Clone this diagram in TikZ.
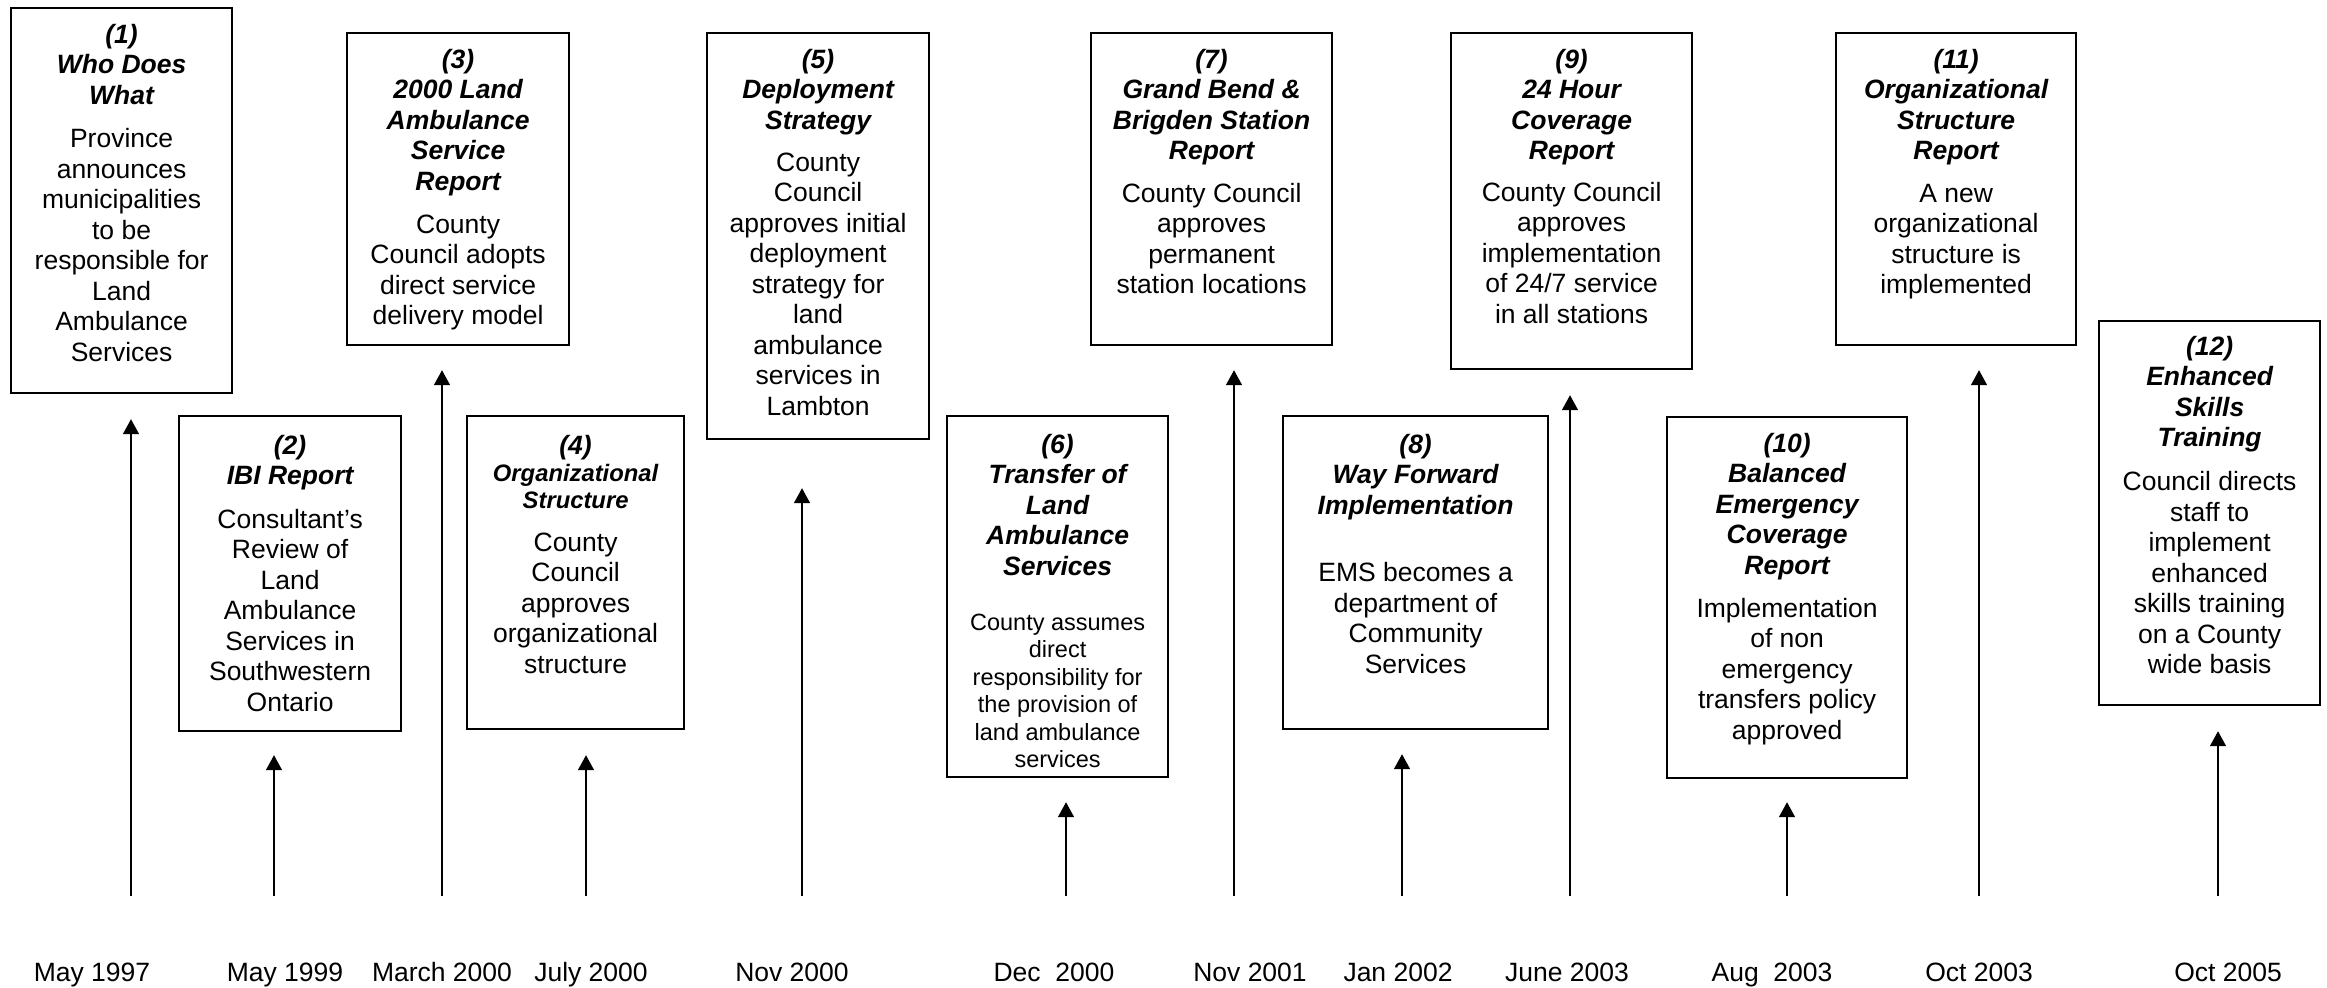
\documentclass[tikz,border=0pt]{standalone}
\usepackage{fontspec}
\setmainfont{Liberation Sans}
\usetikzlibrary{arrows.meta}
\newlength\upx
\setlength\upx{0.5pt}
\newcommand\ttl{\bfseries\itshape}
\newcommand\evbox[7]{%
  \node[evb] (#1) at (#2,#3) {\parbox[c][#5\upx][t]{#4\upx}{\centering\rule{0pt}{#6pt}#7}};}
\begin{document}
\begin{tikzpicture}[x=0.5pt,y=-0.5pt,
  every node/.style={font=\fontsize{13.25pt}{15.25pt}\selectfont},
  evb/.style={draw, line width=1.1pt, inner sep=0pt, anchor=north west},
  arr/.style={line width=0.75pt, -{Triangle[length=7.5pt,width=8pt]}, shorten >=12pt},
  date/.style={anchor=base, inner sep=0pt}]
\path[use as bounding box] (0,0) rectangle (2327,988);

\evbox{b1}{10}{7}{221}{385}{17.5}{{\ttl (1)\\ Who Does\\ What\par}\vspace{6.5pt}Province\\ announces\\ municipalities\\ to be\\ responsible for\\ Land\\ Ambulance\\ Services}
\evbox{b2}{178}{415}{222}{315}{19}{{\ttl (2)\\ IBI Report\par}\vspace{6.5pt}Consultant’s\\ Review of\\ Land\\ Ambulance\\ Services in\\ Southwestern\\ Ontario}
\evbox{b3}{346}{32}{222}{312}{17.5}{{\ttl (3)\\ 2000 Land\\ Ambulance\\ Service\\ Report\par}\vspace{6.25pt}County\\ Council adopts\\ direct service\\ delivery model}
\evbox{b4}{466}{415}{217}{313}{19}{{\ttl (4)\\ \fontsize{11.9pt}{13.5pt}\selectfont Organizational\\ Structure\par}\vspace{6.25pt}County\\ Council\\ approves\\ organizational\\ structure}
\evbox{b5}{706}{32}{222}{406}{17.5}{{\ttl (5)\\ Deployment\\ Strategy\par}\vspace{5.75pt}County\\ Council\\ approves initial\\ deployment\\ strategy for\\ land\\ ambulance\\ services in\\ Lambton}
\evbox{b6}{946}{415}{221}{361}{18.5}{{\ttl (6)\\ Transfer of\\ Land\\ Ambulance\\ Services\par}\vspace{14pt}{\fontsize{11.75pt}{13.7pt}\selectfont County assumes\\ direct\\ responsibility for\\ the provision of\\ land ambulance\\ services\par}}
\evbox{b7}{1090}{32}{241}{312}{17.5}{{\ttl (7)\\ Grand Bend \&\\ Brigden Station\\ Report\par}\vspace{6pt}County Council\\ approves\\ permanent\\ station locations}
\evbox{b8}{1282}{415}{265}{313}{18.5}{{\ttl (8)\\ Way Forward\\ Implementation\par}\vspace{18.5pt}EMS becomes a\\ department of\\ Community\\ Services}
\evbox{b9}{1450}{32}{241}{336}{17.5}{{\ttl (9)\\ 24 Hour\\ Coverage\\ Report\par}\vspace{5.5pt}County Council\\ approves\\ implementation\\ of 24/7 service\\ in all stations}
\evbox{b10}{1666}{416}{240}{361}{17.5}{{\ttl (10)\\ Balanced\\ Emergency\\ Coverage\\ Report\par}\vspace{6.25pt}Implementation\\ of non\\ emergency\\ transfers policy\\ approved}
\evbox{b11}{1835}{32}{240}{312}{17.5}{{\ttl (11)\\ Organizational\\ Structure\\ Report\par}\vspace{6pt}A new\\ organizational\\ structure is\\ implemented}
\evbox{b12}{2098}{320}{221}{384}{17}{{\ttl (12)\\ Enhanced\\ Skills\\ Training\par}\vspace{6.75pt}Council directs\\ staff to\\ implement\\ enhanced\\ skills training\\ on a County\\ wide basis}

\coordinate (t1) at (131,896);
\coordinate (t2) at (274,896);
\coordinate (t3) at (442,896);
\coordinate (t4) at (586,896);
\coordinate (t5) at (802,896);
\coordinate (t6) at (1066,896);
\coordinate (t7) at (1234,896);
\coordinate (t8) at (1402,896);
\coordinate (t9) at (1570,896);
\coordinate (t10) at (1787,896);
\coordinate (t11) at (1979,896);
\coordinate (t12) at (2218,896);

\draw[arr, shorten >=12.5pt] (t1) -- (t1 |- b1.south);
\draw[arr, shorten >=11.5pt] (t2) -- (t2 |- b2.south);
\draw[arr] (t3) -- (t3 |- b3.south);
\draw[arr, shorten >=12.5pt] (t4) -- (t4 |- b4.south);
\draw[arr, shorten >=24pt] (t5) -- (t5 |- b5.south);
\draw[arr] (t6) -- (t6 |- b6.south);
\draw[arr] (t7) -- (t7 |- b7.south);
\draw[arr] (t8) -- (t8 |- b8.south);
\draw[arr, shorten >=12.5pt] (t9) -- (t9 |- b9.south);
\draw[arr, shorten >=11.5pt] (t10) -- (t10 |- b10.south);
\draw[arr] (t11) -- (t11 |- b11.south);
\draw[arr, shorten >=12.5pt] (t12) -- (t12 |- b12.south);

\node[date] (d1) at (92,981) {May 1997};
\node[date] (d2) at (285,981) {May 1999};
\node[date] (d3) at (442,981) {March 2000};
\node[date] (d4) at (591,981) {July 2000};
\node[date] (d5) at (792,981) {Nov 2000};
\node[date] (d6) at (1054,981) {Dec~~2000};
\node[date] (d7) at (1250,981) {Nov 2001};
\node[date] (d8) at (1398,981) {Jan 2002};
\node[date] (d9) at (1567,981) {June 2003};
\node[date] (d10) at (1772,981) {Aug~~2003};
\node[date] (d11) at (1979,981) {Oct 2003};
\node[date] (d12) at (2228,981) {Oct 2005};
\end{tikzpicture}
\end{document}
